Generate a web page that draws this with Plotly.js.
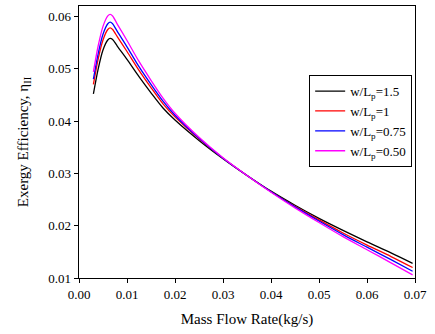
<!DOCTYPE html>
<html>
<head>
<meta charset="utf-8">
<script src="https://cdn.plot.ly/plotly-3.0.1.min.js"></script>
<style>
  body { margin: 0; padding: 0; background: #fff; }
  #chart { width: 435px; height: 334px; }
</style>
</head>
<body>
<div id="chart"></div>
<script>
// mass flow rate (kg/s)
var massFlow = [0.003, 0.004, 0.005, 0.006, 0.0065, 0.007, 0.008, 0.010, 0.0125, 0.015, 0.0175,
                0.020, 0.025, 0.030, 0.035, 0.040, 0.045, 0.050, 0.055, 0.060, 0.065, 0.0695];

// exergy efficiency for each w/Lp
var eta150 = [0.0452, 0.0500, 0.0536, 0.0555, 0.0558, 0.0556, 0.0543, 0.0518, 0.0485, 0.0454, 0.0425,
              0.0402, 0.0363, 0.0328, 0.0296, 0.0266, 0.0239, 0.0214, 0.0191, 0.0169, 0.0148, 0.0128];
var eta100 = [0.0470, 0.0519, 0.0555, 0.0575, 0.0578, 0.0575, 0.0561, 0.0533, 0.0497, 0.0464, 0.0433,
              0.0408, 0.0366, 0.0329, 0.0296, 0.0265, 0.0237, 0.0211, 0.0186, 0.0163, 0.0141, 0.0120];
var eta075 = [0.0480, 0.0529, 0.0566, 0.0586, 0.0589, 0.0586, 0.0571, 0.0542, 0.0504, 0.0470, 0.0438,
              0.0411, 0.0367, 0.0329, 0.0296, 0.0265, 0.0236, 0.0209, 0.0183, 0.0159, 0.0135, 0.0113];
var eta050 = [0.0494, 0.0544, 0.0581, 0.0601, 0.0604, 0.0601, 0.0585, 0.0554, 0.0514, 0.0478, 0.0444,
              0.0415, 0.0369, 0.0330, 0.0296, 0.0264, 0.0234, 0.0206, 0.0179, 0.0154, 0.0129, 0.0106];

var names = ['w/L<sub>p</sub>=1.5', 'w/L<sub>p</sub>=1', 'w/L<sub>p</sub>=0.75', 'w/L<sub>p</sub>=0.50'];
var colors = ['#000000', '#ff0000', '#0000ff', '#ff00ff'];
var series = [eta150, eta100, eta075, eta050];

var traces = [];
for (var i = 0; i < series.length; i++) {
  traces.push({
    x: massFlow,
    y: series[i],
    name: names[i],
    type: 'scatter',
    mode: 'lines',
    line: {color: colors[i], width: 1.3, shape: 'spline', smoothing: 0.8}
  });
}

var axisStyle = {
  showline: true,
  linecolor: '#000',
  linewidth: 1.3,
  mirror: true,
  ticks: 'outside',
  ticklen: 4,
  tickcolor: '#000',
  showgrid: false,
  zeroline: false,
  tickformat: '.2f',
  dtick: 0.01,
  tickfont: {size: 13}
};

var layout = {
  width: 435,
  height: 334,
  margin: {l: 79, r: 20, t: 6, b: 56},
  paper_bgcolor: '#fff',
  plot_bgcolor: '#fff',
  font: {family: '"Liberation Serif", "Times New Roman", serif', size: 12, color: '#000'},
  xaxis: Object.assign({}, axisStyle, {
    range: [0, 0.07],
    title: {text: 'Mass Flow Rate(kg/s)', font: {size: 15}, standoff: 12}
  }),
  yaxis: Object.assign({}, axisStyle, {
    range: [0.01, 0.062],
    title: {text: 'Exergy Efficiency, η<sub>II</sub>', font: {size: 15}, standoff: 16}
  }),
  showlegend: true,
  legend: {
    x: 0.685, y: 0.746, xanchor: 'left', yanchor: 'top',
    bordercolor: '#000', borderwidth: 1, bgcolor: '#fff',
    font: {size: 13}, tracegroupgap: 0
  }
};

Plotly.newPlot('chart', traces, layout, {displayModeBar: false, staticPlot: true});
</script>
</body>
</html>
